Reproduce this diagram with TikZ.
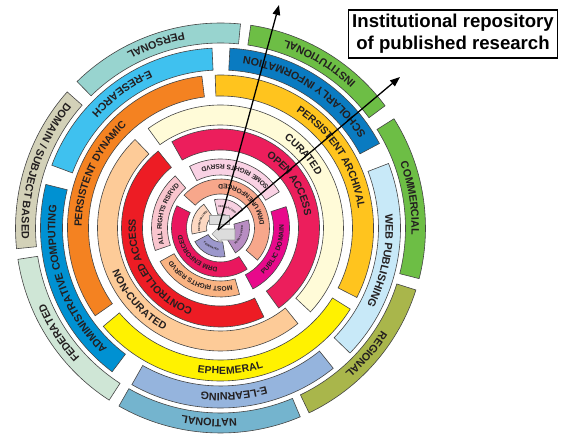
\documentclass[tikz,border=0pt]{standalone}
\usepackage{fontspec}
\setmainfont{Liberation Sans}
\usetikzlibrary{decorations.text,arrows.meta}

\definecolor{segline}{HTML}{454545}
\definecolor{labtext}{HTML}{231F20}
\definecolor{cinstit}{HTML}{6DBE45}
\definecolor{cpersonal}{HTML}{98D4CF}
\definecolor{cdomain}{HTML}{D3D1B8}
\definecolor{cfedout}{HTML}{CFE6D6}
\definecolor{cnational}{HTML}{74B4CE}
\definecolor{cregional}{HTML}{A9B64B}
\definecolor{ccommerc}{HTML}{6DBE45}
\definecolor{cschol}{HTML}{0A7BC1}
\definecolor{cresearch}{HTML}{3FC1EF}
\definecolor{cadmin}{HTML}{0091D2}
\definecolor{clearn}{HTML}{95B4DD}
\definecolor{cweb}{HTML}{C8E9F8}
\definecolor{carchival}{HTML}{FFC41E}
\definecolor{cdynamic}{HTML}{F48221}
\definecolor{cephem}{HTML}{FFF200}
\definecolor{ccurated}{HTML}{FFFBD8}
\definecolor{cnoncur}{HTML}{FDCB98}
\definecolor{copen}{HTML}{EC1E5C}
\definecolor{ccontrol}{HTML}{ED1C24}
\definecolor{csome}{HTML}{F9D2E4}
\definecolor{call}{HTML}{F9C5CE}
\definecolor{cmost}{HTML}{F9B382}
\definecolor{cpublic}{HTML}{E8098B}
\definecolor{cunenf}{HTML}{F7A78B}
\definecolor{cenf}{HTML}{E9175E}
\definecolor{ccentral}{HTML}{F7D0E1}
\definecolor{cdecent}{HTML}{FCD8C2}
\definecolor{cfedin}{HTML}{9C98CC}
\definecolor{cpeer}{HTML}{B88DC2}
\definecolor{iconfill}{HTML}{DCDCDC}
\definecolor{icondraw}{HTML}{9A9A9A}

\newcommand{\ringfontA}{\fontsize{10.8}{12}\selectfont\bfseries}
\newcommand{\ringfontB}{\fontsize{10.4}{12}\selectfont\bfseries}
\newcommand{\ringfontC}{\fontsize{6.7}{8}\selectfont\bfseries}
\newcommand{\ringfontD}{\fontsize{2.7}{3}\selectfont\bfseries}

\tikzset{
  seg/.style={draw=segline,line width=0.6pt},
  labA/.style={decorate,decoration={text along path,text align=center,raise=-3.9pt,text color=labtext,text={|\ringfontA|#1}}},
  labB/.style={decorate,decoration={text along path,text align=center,raise=-3.7pt,text color=labtext,text={|\ringfontB|#1}}},
  labC/.style={decorate,decoration={text along path,text align=center,raise=-2.4pt,text color=labtext,text={|\ringfontC|#1}}},
  labD/.style={decorate,decoration={text along path,text align=center,raise=-1pt,text color=labtext,text={|\ringfontD|#1}}}
}

\begin{document}
\begin{tikzpicture}[x=1pt,y=1pt]
    \useasboundingbox (-220.5,-211) rectangle (347.5,228);

    \draw[seg,fill=cinstit] (36.6:205) arc (36.6:81.5:205) -- (81.5:185) arc (81.5:36.6:185) -- cycle;
    \draw[seg,fill=cpersonal] (84.4:205) arc (84.4:134.4:205) -- (134.4:185) arc (134.4:84.4:185) -- cycle;
    \draw[seg,fill=cdomain] (138.4:205) arc (138.4:185.8:205) -- (185.8:185) arc (185.8:138.4:185) -- cycle;
    \draw[seg,fill=cfedout] (188.8:205) arc (188.8:237.1:205) -- (237.1:185) arc (237.1:188.8:185) -- cycle;
    \draw[seg,fill=cnational] (240.3:205) arc (240.3:292.9:205) -- (292.9:185) arc (292.9:240.3:185) -- cycle;
    \draw[seg,fill=cregional] (295.6:205) arc (295.6:342.4:205) -- (342.4:185) arc (342.4:295.6:185) -- cycle;
    \draw[seg,fill=ccommerc] (-14.3:205) arc (-14.3:32.2:205) -- (32.2:185) arc (32.2:-14.3:185) -- cycle;

    \draw[seg,fill=cschol] (28:180) arc (28:87:180) -- (87:158) arc (87:28:158) -- cycle;
    \draw[seg,fill=cresearch] (92.7:180) arc (92.7:159.6:180) -- (159.6:158) arc (159.6:92.7:158) -- cycle;
    \draw[seg,fill=cadmin] (166:180) arc (166:233:180) -- (233:158) arc (233:166:158) -- cycle;
    \draw[seg,fill=clearn] (240.5:180) arc (240.5:308.8:180) -- (308.8:158) arc (308.8:240.5:158) -- cycle;
    \draw[seg,fill=cweb] (-44:180) arc (-44:21:180) -- (21:158) arc (21:-44:158) -- cycle;

    \draw[seg,fill=carchival] (-27:153) arc (-27:92:153) -- (92:132) arc (92:-27:132) -- cycle;
    \draw[seg,fill=cdynamic] (97:153) arc (97:215:153) -- (215:132) arc (215:97:132) -- cycle;
    \draw[seg,fill=cephem] (220:153) arc (220:328:153) -- (328:132) arc (328:220:132) -- cycle;

    \draw[seg,fill=ccurated] (-43:123) arc (-43:126:123) -- (126:103) arc (126:-43:103) -- cycle;
    \draw[seg,fill=cnoncur] (134:123) arc (134:309:123) -- (309:103) arc (309:134:103) -- cycle;

    \draw[seg,fill=copen] (-54:99) arc (-54:119.4:99) -- (119.4:78) arc (119.4:-54:78) -- cycle;
    \draw[seg,fill=ccontrol] (129:99) arc (129:296:99) -- (296:78) arc (296:129:78) -- cycle;

    \draw[seg,fill=csome] (31.6:69) arc (31.6:116.6:69) -- (116.6:53) arc (116.6:31.6:53) -- cycle;
    \draw[seg,fill=call] (131:69) arc (131:199:69) -- (199:53) arc (199:131:53) -- cycle;
    \draw[seg,fill=cmost] (209:69) arc (209:286:69) -- (286:53) arc (286:209:53) -- cycle;
    \draw[seg,fill=cpublic] (-62:69) arc (-62:18:69) -- (18:53) arc (18:-62:53) -- cycle;

    \draw[seg,fill=cunenf] (-41:49) arc (-41:138:49) -- (138:34) arc (138:-41:34) -- cycle;
    \draw[seg,fill=cenf] (153:49) arc (153:303:49) -- (303:34) arc (303:153:34) -- cycle;

    \draw[seg,fill=ccentral] (39:29) arc (39:102:29) -- (102:14) arc (102:39:14) -- cycle;
    \draw[seg,fill=cdecent] (125:29) arc (125:192:29) -- (192:14) arc (192:125:14) -- cycle;
    \draw[seg,fill=cfedin] (208:29) arc (208:279:29) -- (279:14) arc (279:208:14) -- cycle;
    \draw[seg,fill=cpeer] (-59:29) arc (-59:16:29) -- (16:14) arc (16:-59:14) -- cycle;

    \path[labA=INSTITUTIONAL] (36.6:195) arc (36.6:81.5:195);
    \path[labA=PERSONAL] (84.4:195) arc (84.4:134.4:195);
    \path[labA={DOMAIN / SUBJECT BASED}] (138.4:195) arc (138.4:185.8:195);
    \path[labA=FEDERATED] (237.1:195) arc (237.1:188.8:195);
    \path[labA=NATIONAL] (292.9:195) arc (292.9:240.3:195);
    \path[labA=REGIONAL] (342.4:195) arc (342.4:295.6:195);
    \path[labA=COMMERCIAL] (32.2:195) arc (32.2:-14.3:195);

    \path[labA={SCHOLARLY INFORMATION}] (28:169) arc (28:87:169);
    \path[labA=E-RESEARCH] (92.7:169) arc (92.7:159.6:169);
    \path[labA={ADMINISTRATIVE COMPUTING}] (233:169) arc (233:166:169);
    \path[labA=E-LEARNING] (308.8:169) arc (308.8:240.5:169);
    \path[labA={WEB PUBLISHING}] (21:169) arc (21:-44:169);

    \path[labB={PERSISTENT ARCHIVAL}] (92:142.5) arc (92:-27:142.5);
    \path[labB={PERSISTENT DYNAMIC}] (215:142.5) arc (215:97:142.5);
    \path[labB=EPHEMERAL] (220:142.5) arc (220:328:142.5);

    \path[labB=CURATED] (126:113) arc (126:-43:113);
    \path[labB=NON-CURATED] (134:113) arc (134:309:113);

    \path[labB={OPEN ACCESS}] (119.4:88.5) arc (119.4:-54:88.5);
    \path[labB={CONTROLLED ACCESS}] (296:88.5) arc (296:129:88.5);

    \path[labC={SOME RIGHTS RSRVD}] (31.6:61) arc (31.6:116.6:61);
    \path[labC={ALL RIGHTS RSRVD}] (199:61) arc (199:131:61);
    \path[labC={MOST RIGHTS RSRVD}] (286:61) arc (286:209:61);
    \path[labC={PUBLIC DOMAIN}] (-62:61) arc (-62:18:61);

    \path[labC={DRM UNENFORCED}] (-41:41.5) arc (-41:138:41.5);
    \path[labC={DRM ENFORCED}] (303:41.5) arc (303:153:41.5);

    \path[labD=CENTRALISED] (102:21.5) arc (102:39:21.5);
    \path[labD=DECENTRALISED] (192:21.5) arc (192:125:21.5);
    \path[labD=FEDERATED] (208:21.5) arc (208:279:21.5);
    \path[labD={PEER TO PEER}] (-59:21.5) arc (-59:16:21.5);

    \draw[fill=iconfill,draw=icondraw,line width=0.6pt] (-11.5,13) rectangle (8.5,4);
    \draw[fill=iconfill,draw=icondraw,line width=0.6pt] (-8.5,-6) -- (0.5,3) -- (0.5,-1) -- (14.5,-1) -- (14.5,-12) -- (0.5,-12) -- (0.5,-15) -- cycle;

    \coordinate (hub) at (-2.5,-2);
    \coordinate (tipup) at (58.5,223);
    \coordinate (tipright) at (179.5,151);
    \draw[-{Triangle[length=10pt,width=7.5pt]},line width=1.3pt] (hub) -- (tipup);
    \draw[-{Triangle[length=10pt,width=7.5pt]},line width=1.3pt] (hub) -- (tipright);

    \node[draw,line width=1.2pt,minimum width=209pt,minimum height=48pt,align=center,inner sep=2pt,font=\fontsize{18.6}{22}\selectfont\bfseries] (repo) at (232.5,194) {Institutional repository\\of published research};
  \end{tikzpicture}
\end{document}
